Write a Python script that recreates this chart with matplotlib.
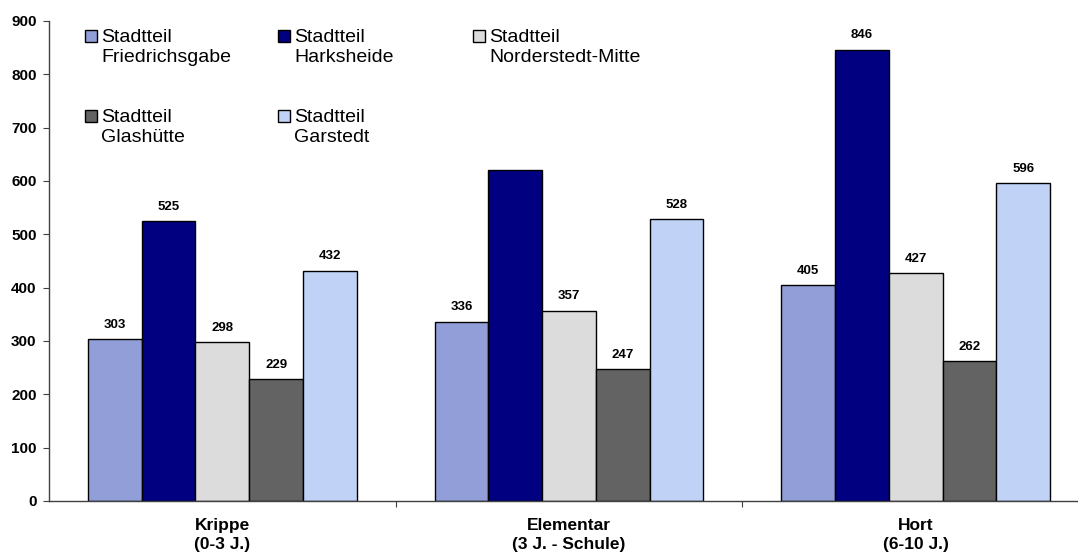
import matplotlib
matplotlib.use("Agg")
import matplotlib.pyplot as plt
from matplotlib.patches import Rectangle
import numpy as np

plt.rcParams['font.family'] = ['Liberation Sans', 'DejaVu Sans']

categories = ["Krippe\n(0-3 J.)", "Elementar\n(3 J. - Schule)", "Hort\n(6-10 J.)"]
series_names = ["Stadtteil\nFriedrichsgabe", "Stadtteil\nHarksheide", "Stadtteil\nNorderstedt-Mitte",
                "Stadtteil\nGlashütte", "Stadtteil\nGarstedt"]
friedrichsgabe = [303, 336, 405]
harksheide = [525, 620, 846]
norderstedt_mitte = [298, 357, 427]
glashuette = [229, 247, 262]
garstedt = [432, 528, 596]
series = [friedrichsgabe, harksheide, norderstedt_mitte, glashuette, garstedt]
# value labels shown in the chart (one missing in the original)
labels = [["303", "336", "405"], ["525", "", "846"], ["298", "357", "427"],
          ["229", "247", "262"], ["432", "528", "596"]]
colors = ["#919ED8", "#000080", "#DCDCDC", "#636363", "#C0D3F7"]

W, H = 1078, 559
fig = plt.figure(figsize=(W / 100, H / 100), dpi=100)
ax = fig.add_axes([49 / W, (H - 501) / H, (1089 - 49) / W, 480 / H])

x = np.arange(len(categories))
bw = 0.155
for j, (vals, col) in enumerate(zip(series, colors)):
    xs = x + (j - 2) * bw
    ax.bar(xs, vals, width=bw, color=col, edgecolor="black", linewidth=1.0, zorder=2)
    for xi, v, lab in zip(xs, vals, labels[j]):
        if lab:
            ax.annotate(lab, (xi, v), xytext=(0, 6), textcoords="offset points",
                        ha="center", va="bottom", fontsize=9.5, fontweight="bold")

ax.set_xlim(-0.5, 2.5)
ax.set_ylim(0, 900)
ax.set_yticks(range(0, 901, 100))
ax.set_yticklabels([str(v) for v in range(0, 901, 100)], fontsize=11, fontweight="bold")
ax.set_xticks([0.5, 1.5, 2.5])
ax.set_xticklabels([])
ax.set_xticks(x, minor=True)
ax.set_xticklabels(categories, minor=True, fontsize=12.5, fontweight="bold", linespacing=1.4)
ax.tick_params(axis="x", which="minor", length=0, pad=12)
ax.tick_params(axis="x", which="major", length=4, direction="out", color="#404040")
ax.tick_params(axis="y", length=4, direction="out", pad=5, color="#404040")
for s in ["top", "right"]:
    ax.spines[s].set_visible(False)
for s in ["left", "bottom"]:
    ax.spines[s].set_color("#404040")
    ax.spines[s].set_linewidth(1.0)

# legend (row-major, 3 columns)
col_x = [85, 278, 473]
row_y = [30, 110]
for k, (name, col) in enumerate(zip(series_names, colors)):
    r, c = divmod(k, 3)
    x0, y0 = col_x[c], row_y[r]
    fig.add_artist(Rectangle((x0 / W, 1 - (y0 + 12) / H), 12 / W, 12 / H,
                             transform=fig.transFigure, facecolor=col,
                             edgecolor="black", linewidth=1.0))
    fig.text((x0 + 16) / W, 1 - (y0 - 1) / H, name, fontsize=14, va="top", ha="left",
             linespacing=1.2)

fig.savefig("out.png", dpi=100)
